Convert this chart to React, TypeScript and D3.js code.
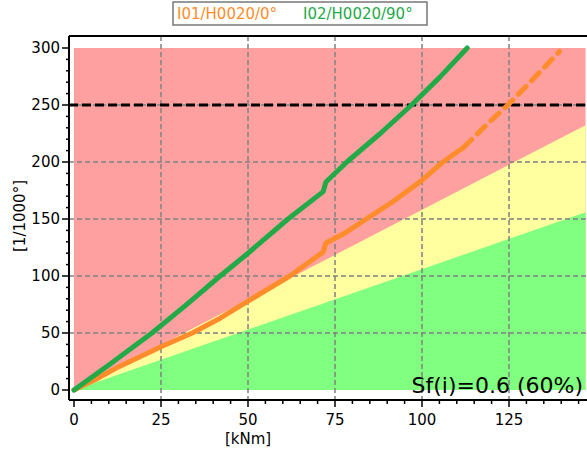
import React from "react";
import * as d3 from "d3";

// ---- data ----
const seriesNames = ["I01/H0020/0°", "I02/H0020/90°"];
const orangeX = [0, 6, 12, 25, 34, 42, 50, 62, 71.6, 72.4, 78, 84, 92, 100, 106, 112];
const orangeY = [0, 9, 19, 38, 50, 63, 78, 100, 121, 129, 138, 150, 166, 184, 200, 213];
const orangeExtX = [112, 118, 125, 132, 139.5];
const orangeExtY = [213, 231, 251, 273, 297];
const greenX = [0, 10, 22.4, 32, 42, 50, 61.5, 71.6, 72.4, 78.4, 88, 97, 105, 113];
const greenY = [0, 22, 50, 74, 100, 120, 150, 174, 182.5, 200, 225, 250, 274, 300];
const zoneSlopes = [1.58, 1.06]; // yellow upper limit, green upper limit
const limitValue = 250;
const xMajorTicks = [0, 25, 50, 75, 100, 125];
const yMajorTicks = [0, 50, 100, 150, 200, 250, 300];
const gridX = [25, 50, 75, 100, 125];
const gridY = [50, 100, 150, 200, 250];
const annotation = "Sf(i)=0.6 (60%)";
const xTitle = "[kNm]";
const yTitle = "[1/1000°]";

const W = 587, H = 452;
const FONT = "'DejaVu Sans', Verdana, sans-serif";

export default function App() {
  const x = d3.scaleLinear().domain([0, 100]).range([74, 422]);
  const y = d3.scaleLinear().domain([0, 300]).range([390, 48]);
  const xEnd = 147;
  const frameTop = 36, axisX = 69, axisY = 400;

  const line = d3.line<[number, number]>().x(d => x(d[0])).y(d => y(d[1])).curve(d3.curveLinear);
  const orange = orangeX.map((v, i) => [v, orangeY[i]] as [number, number]);
  const orangeExt = orangeExtX.map((v, i) => [v, orangeExtY[i]] as [number, number]);
  const green = greenX.map((v, i) => [v, greenY[i]] as [number, number]);

  const area = d3.area<[number, number]>().x(d => x(d[0])).y0(y(0)).y1(d => y(d[1]));
  const yellowPts: [number, number][] = [[0, 0], [xEnd, Math.min(300, xEnd * zoneSlopes[0])]];
  const greenPts: [number, number][] = [[0, 0], [xEnd, Math.min(300, xEnd * zoneSlopes[1])]];

  const xMinor = d3.range(0, 146, 5);
  const yMinor = d3.range(0, 301, 10);

  return (
    <svg width={W} height={H} style={{ position: "absolute", left: 0, top: 0, background: "#fff" }} fontFamily={FONT}>
      {/* zones */}
      <rect x={x(0)} y={y(300)} width={x(xEnd) - x(0)} height={y(0) - y(300)} fill="#ffa0a0" />
      <path d={area(yellowPts) || ""} fill="#ffffa0" />
      <path d={area(greenPts) || ""} fill="#80ff80" />

      {/* grid */}
      {gridX.map(v => (
        <line key={"gx" + v} x1={x(v)} x2={x(v)} y1={frameTop} y2={axisY} stroke="#808080" strokeWidth={1.5} strokeDasharray="5,3" />
      ))}
      {gridY.map(v => (
        <line key={"gy" + v} x1={axisX} x2={W} y1={y(v)} y2={y(v)} stroke="#808080" strokeWidth={1.5} strokeDasharray="5,3" />
      ))}

      {/* limit line */}
      <line x1={axisX} x2={W} y1={y(limitValue)} y2={y(limitValue)} stroke="#000" strokeWidth={3} strokeDasharray="9,4" />

      {/* series */}
      <path d={line(orangeExt) || ""} fill="none" stroke="#ff8c2a" strokeWidth={5} strokeDasharray="11,8" strokeLinecap="round" />
      <path d={line(orange) || ""} fill="none" stroke="#ff8c2a" strokeWidth={5} strokeLinecap="round" strokeLinejoin="round" />
      <path d={line(green) || ""} fill="none" stroke="#22aa48" strokeWidth={5} strokeLinecap="round" strokeLinejoin="round" />

      {/* frame / axes */}
      <line x1={axisX} x2={W} y1={frameTop} y2={frameTop} stroke="#000" strokeWidth={2} />
      <line x1={axisX} x2={axisX} y1={frameTop} y2={axisY} stroke="#000" strokeWidth={2} />
      <line x1={axisX} x2={W} y1={axisY} y2={axisY} stroke="#000" strokeWidth={2} />

      {yMinor.map(v => (
        <line key={"ym" + v} x1={axisX} x2={axisX - (v % 50 === 0 ? 7 : 3)} y1={y(v)} y2={y(v)} stroke="#000" strokeWidth={1.5} />
      ))}
      {xMinor.map(v => (
        <line key={"xm" + v} x1={x(v)} x2={x(v)} y1={axisY} y2={axisY + (v % 25 === 0 ? 7 : 4)} stroke="#000" strokeWidth={1.5} />
      ))}
      {yMajorTicks.map(v => (
        <text key={"yl" + v} x={60} y={y(v)} dy="0.36em" textAnchor="end" fontSize={15} fill="#000">{v}</text>
      ))}
      {xMajorTicks.map(v => (
        <text key={"xl" + v} x={x(v)} y={425} textAnchor="middle" fontSize={15} fill="#000">{v}</text>
      ))}

      <text x={248} y={444} textAnchor="middle" fontSize={15} fill="#000">{xTitle}</text>
      <text transform={`translate(25,216) rotate(-90)`} textAnchor="middle" fontSize={15} fill="#000">{yTitle}</text>

      <text x={583} y={393} textAnchor="end" fontSize={22} fill="#000">{annotation}</text>

      {/* legend */}
      <rect x={173} y={2} width={254} height={23} fill="#fff" stroke="#777" strokeWidth={1.5} />
      <text x={177} y={19} fontSize={15} fill="#ff8c2a">{seriesNames[0]}</text>
      <text x={303} y={19} fontSize={15} fill="#22aa48">{seriesNames[1]}</text>
    </svg>
  );
}
